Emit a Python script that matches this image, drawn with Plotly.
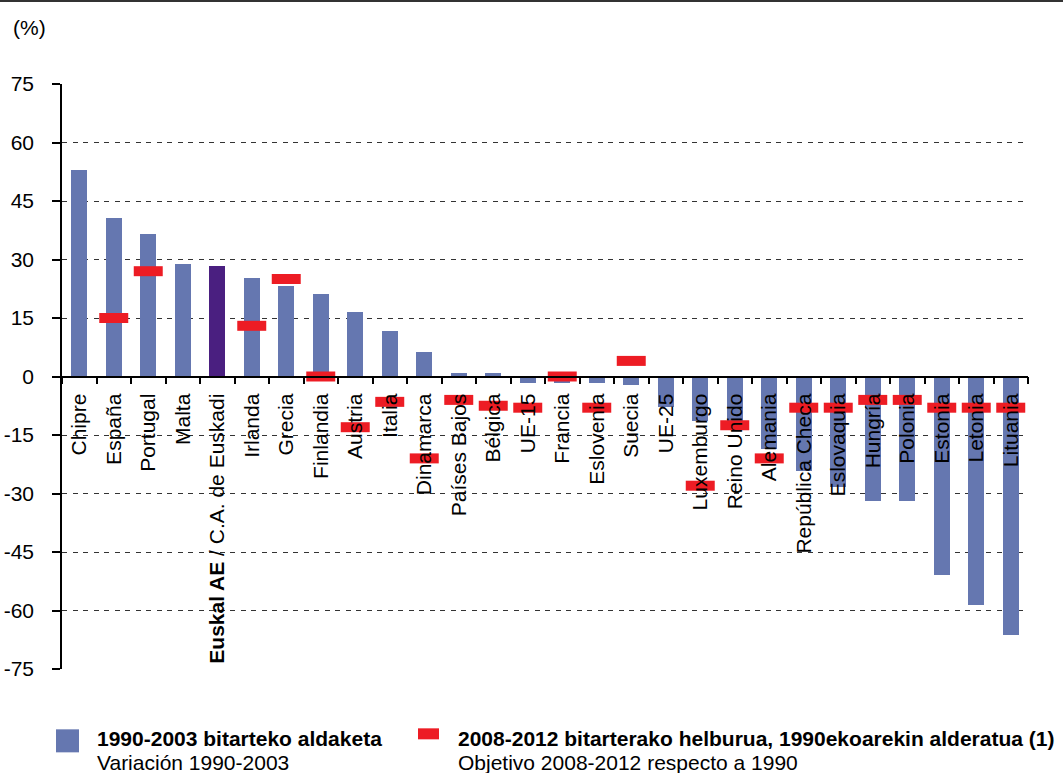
import plotly.graph_objects as go

# Greenhouse gas emissions: change 1990-2003 and Kyoto target 2008-2012 (% vs 1990)
countries = [
    "Chipre", "España", "Portugal", "Malta", "Euskadi", "Irlanda", "Grecia",
    "Finlandia", "Austria", "Italia", "Dinamarca", "Países Bajos", "Bélgica",
    "UE-15", "Francia", "Eslovenia", "Suecia", "UE-25", "Luxemburgo",
    "Reino Unido", "Alemania", "República Checa", "Eslovaquia", "Hungría",
    "Polonia", "Estonia", "Letonia", "Lituania",
]
tick_labels = [
    "Chipre", "España", "Portugal", "Malta", "<b>Euskal AE</b> / C.A. de Euskadi",
    "Irlanda", "Grecia", "Finlandia", "Austria", "Italia", "Dinamarca",
    "Países Bajos", "Bélgica", "UE-15", "Francia", "Eslovenia", "Suecia",
    "UE-25", "Luxemburgo", "Reino Unido", "Alemania", "República Checa",
    "Eslovaquia", "Hungría", "Polonia", "Estonia", "Letonia", "Lituania",
]
variation_1990_2003 = [
    53.0, 40.6, 36.5, 28.8, 28.3, 25.2, 23.2, 21.1, 16.5, 11.6, 6.3, 0.9, 0.9,
    -1.6, -1.7, -1.6, -2.2, -7.8, -11.4, -13.0, -18.6, -24.2, -28.3, -31.9,
    -31.9, -50.9, -58.6, -66.3,
]
target_2008_2012 = [
    None, 15, 27, None, None, 13, 25, 0, -13, -6.5, -21, -6, -7.5,
    -8, 0, -8, 4, None, -28, -12.5, -21, -8, -8, -6, -6, -8, -8, -8,
]
y_ticks = [75, 60, 45, 30, 15, 0, -15, -30, -45, -60, -75]
y_tick_text = ["75", "60", "45", "30", "15", "0", "-15", "-30", "-45", "-60", "-75"]

BLUE = "#6577B0"
PURPLE = "#4A1F80"
RED = "#ED1C24"
FONT = "Liberation Sans, Arial, sans-serif"
FS = 21

bar_colors = [PURPLE if c == "Euskadi" else BLUE for c in countries]

fig = go.Figure()
fig.add_trace(go.Bar(
    x=countries, y=variation_1990_2003, marker_color=bar_colors,
    marker_line_width=0, width=0.46, showlegend=False,
))
fig.add_trace(go.Scatter(
    x=countries, y=target_2008_2012, mode="markers", showlegend=False,
    marker=dict(symbol="line-ew", size=20.7, line=dict(width=10, color=RED)),
))

W, H = 1063, 773
L, R, T, B = 62, 1028, 84, 668.7


def px(xp):
    return (xp - L) / (R - L)


def py(yp):
    return (B - yp) / (B - T)


fig.update_layout(
    width=W, height=H,
    margin=dict(l=L, r=W - R, t=T, b=H - B, pad=0),
    paper_bgcolor="white", plot_bgcolor="white",
    font=dict(family=FONT, size=FS, color="black"),
    bargap=0,
    xaxis=dict(
        type="category", categoryorder="array", categoryarray=countries,
        tickvals=countries, ticktext=tick_labels, tickangle=-90,
        anchor="free", position=0.5, showline=True, linecolor="black",
        linewidth=1.5, ticks="outside", tickson="boundaries", ticklen=7,
        tickwidth=1.5, tickcolor="black", showgrid=False, automargin=False,
        range=[-0.5, len(countries) - 0.5], ticklabelstandoff=8,
        tickfont=dict(family=FONT, size=FS, color="black"),
    ),
    yaxis=dict(
        range=[-75, 75], tickvals=y_ticks, ticktext=y_tick_text,
        showline=True, linecolor="black",
        linewidth=1.5, ticks="outside", ticklen=8, tickwidth=1.5,
        tickcolor="black", showgrid=True, gridcolor="#333333", gridwidth=1.4,
        griddash="5px,5.5px", zeroline=True, zerolinecolor="black",
        zerolinewidth=1.5, ticklabelstandoff=14, automargin=False,
        tickfont=dict(family=FONT, size=FS, color="black"),
    ),
)

# thin frame line along the top edge
fig.add_shape(type="line", xref="paper", yref="paper",
              x0=px(0), x1=px(W), y0=py(1), y1=py(1),
              line=dict(color="#333333", width=2))

fig.add_annotation(text="(%)", xref="paper", yref="paper", x=px(11), y=py(28),
                   xanchor="left", yanchor="middle", showarrow=False,
                   font=dict(family=FONT, size=FS, color="black"))

# legend keys
fig.add_shape(type="rect", xref="paper", yref="paper",
              x0=px(56), x1=px(79), y0=py(752), y1=py(729),
              fillcolor=BLUE, line=dict(width=0))
fig.add_shape(type="rect", xref="paper", yref="paper",
              x0=px(418), x1=px(439), y0=py(739), y1=py(728),
              fillcolor=RED, line=dict(width=0))

legend_text = [
    (95, 738, "<b>1990-2003 bitarteko aldaketa</b>"),
    (95, 762, "Variación 1990-2003"),
    (456, 738, "<b>2008-2012 bitarterako helburua, 1990ekoarekin alderatua (1)</b>"),
    (456, 762, "Objetivo 2008-2012 respecto a 1990"),
]
for xp, yp, txt in legend_text:
    fig.add_annotation(text=txt, xref="paper", yref="paper", x=px(xp), y=py(yp),
                       xanchor="left", yanchor="middle", showarrow=False,
                       font=dict(family=FONT, size=FS, color="black"))

fig.write_html("out.html")
